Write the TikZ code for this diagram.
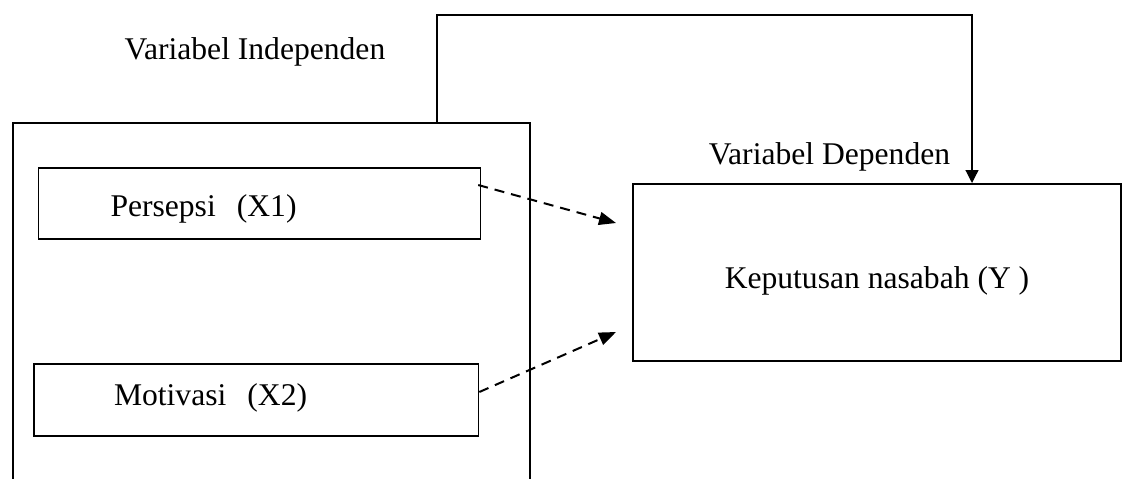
\documentclass[tikz,border=0pt]{standalone}
\usepackage{fontspec}
\setmainfont{Liberation Serif}
\usetikzlibrary{arrows.meta, positioning, calc}
\tikzset{
  group/.style={rectangle, draw=black, line width=1pt, minimum width=258.3pt, minimum height=189pt, anchor=north west},
  variabel/.style={rectangle, draw=black, line width=0.7pt, minimum height=35.5pt, align=left},
  hasil/.style={rectangle, draw=black, line width=1pt, minimum width=244pt, minimum height=88.5pt, text centered},
  judul/.style={inner sep=0pt},
  arrow/.style={line width=0.6pt, -{Triangle[length=6.5pt, width=6.5pt]}},
  dasharrow/.style={line width=1pt, dash pattern=on 5pt off 3.5pt, -{Triangle[length=8.5pt, width=6.5pt]}}
}

\begin{document}
\begin{tikzpicture}[x=0.5pt, y=-0.5pt, font=\fontsize{15.8}{19}\selectfont]

    \clip (0,0) rectangle (1123,478);

    \node (indep) [group] at (12,122) {};
    \node (persepsi) [variabel, inner xsep=36pt, text width=149pt, text height=16.3pt] at (259.5,203.5) {Persepsi\ \ (X1)};
    \node (motivasi) [variabel, inner xsep=40pt, text width=142.3pt, text height=9.3pt, minimum height=36pt] at (256.3,400) {Motivasi\ \ (X2)};
    \node (keputusan) [hasil, text height=19pt] at (877,272.5) {Keputusan nasabah (Y )};

    \node (judulIndep) [judul] at (255,52) {Variabel Independen};
    \node (judulDep) [judul] at (829.5,157) {Variabel Dependen};

    \coordinate (kiriAtas) at (437,15);
    \coordinate (kananAtas) at (972,15);

    \draw [arrow] (kiriAtas |- indep.north) -- (kiriAtas) -- (kananAtas) -- (kananAtas |- keputusan.north);

    \draw [dasharrow] ($(persepsi.east)+(-3,-18.5)$) -- ($(keputusan.west)+(-16,-49.5)$);
    \draw [dasharrow] ($(motivasi.east)+(0,-8)$) -- ($(keputusan.west)+(-16,59.5)$);

  \end{tikzpicture}
\end{document}
